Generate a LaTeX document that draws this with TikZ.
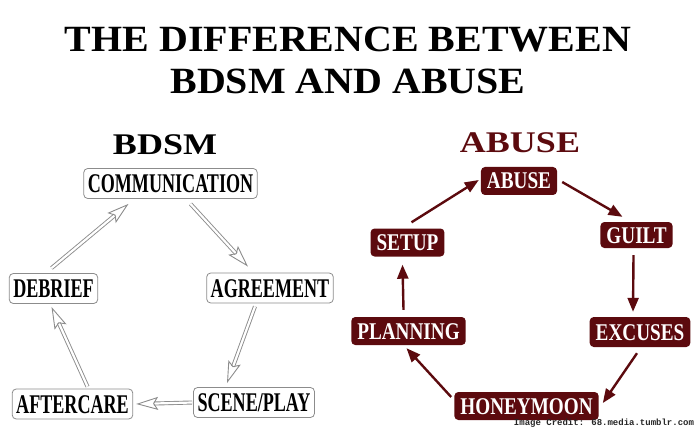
\documentclass[tikz,border=0pt]{standalone}
\usepackage{fontspec}
\usepackage{tikz}
\usetikzlibrary{calc}
\usetikzlibrary{arrows.meta}
\setmainfont{Liberation Serif}
\newfontfamily\titlefont[FakeStretch=1.08]{Liberation Serif}
\newfontfamily\headfont[FakeStretch=1.2]{Liberation Serif}
\newfontfamily\bdsmfont[FakeStretch=0.67]{Liberation Serif}
\newfontfamily\abusefont[FakeStretch=0.8]{Liberation Serif}
\newfontfamily\creditfont{Liberation Mono}
\definecolor{maroon}{RGB}{92,10,14}
\definecolor{boxgray}{RGB}{140,140,140}

\begin{document}
\begin{tikzpicture}[x=1pt, y=-1pt,
    bdsmbox/.style={draw=boxgray, fill=white, rounded corners=4pt, line width=0.8pt,
      font=\bdsmfont\bfseries\fontsize{27}{27}\selectfont, text height=18pt, text depth=0pt,
      inner xsep=4pt, minimum height=30pt},
    abusebox/.style={fill=maroon, text=white, rounded corners=4pt,
      font=\abusefont\bfseries\fontsize{24}{24}\selectfont, text height=16pt, text depth=0pt,
      inner xsep=6pt, minimum height=28pt},
    hollow/.style={draw=boxgray, double=white, double distance=2.2pt, line width=0.9pt,
      -{Stealth[open, inset=4pt, length=22pt, width=13pt]}},
    solid/.style={draw=maroon, line width=2.4pt, -{Triangle[length=14pt, width=11pt]}}]
      \useasboundingbox (0,0) rectangle (700,430);

      \draw (348,52) node[anchor=base, font=\titlefont\bfseries\fontsize{37}{37}\selectfont] (T1) {THE DIFFERENCE BETWEEN};
      \draw (348,94) node[anchor=base, font=\titlefont\bfseries\fontsize{37}{37}\selectfont] (T2) {BDSM AND ABUSE};

      \draw (165,155) node[anchor=base, font=\headfont\bfseries\fontsize{30}{30}\selectfont] (HB) {BDSM};
      \draw (520,153) node[anchor=base, text=maroon, font=\headfont\bfseries\fontsize{30}{30}\selectfont] (HA) {ABUSE};

      % BDSM cycle
      \draw (170.5,183.5) node[bdsmbox] (comm) {COMMUNICATION};
      \draw (270,288) node[bdsmbox] (agree) {AGREEMENT};
      \draw (254,402.5) node[bdsmbox] (scene) {SCENE/PLAY};
      \draw (72.5,404) node[bdsmbox] (after) {AFTERCARE};
      \draw (53.5,288.5) node[bdsmbox] (debrief) {DEBRIEF};

      \draw[hollow] ($(comm.south)+(20,5)$) -- ($(agree.north)+(-22,-6)$);
      \draw[hollow] ($(agree.south)+(-15,3)$) -- ($(scene.north)+(-27,-4)$);
      \draw[hollow] ($(scene.west)+(-1,0)$) -- ($(after.east)+(3,0)$);
      \draw[hollow] ($(after.north)+(15,-2)$) -- ($(debrief.south)+(-2,3)$);
      \draw[hollow] ($(debrief.north)+(-2,-5)$) -- ($(comm.south)+(-42,5)$);

      % abuse cycle
      \draw (519,181) node[abusebox] (abuse) {ABUSE};
      \draw (636.5,235) node[abusebox, minimum height=26pt] (guilt) {GUILT};
      \draw (640,332) node[abusebox, minimum height=30pt] (excuses) {EXCUSES};
      \draw (526.5,406) node[abusebox] (honey) {HONEYMOON};
      \draw (408.5,331) node[abusebox] (plan) {PLANNING};
      \draw (407.5,242.5) node[abusebox] (setup) {SETUP};

      \draw[solid] ($(setup.north)+(4,-6)$) -- ($(abuse.west)+(-2,-1)$);
      \draw[solid] ($(abuse.east)+(5,1)$) -- ($(guilt.north)+(-14,-5)$);
      \draw[solid] ($(guilt.south)+(-3,7)$) -- ($(excuses.north)+(-7,-5)$);
      \draw[solid] ($(excuses.south)+(-3,6)$) -- ($(honey.east)+(4,-3)$);
      \draw[solid] ($(honey.west)+(-3,-9)$) -- ($(plan.south)+(-2,3)$);
      \draw[solid] ($(plan.north)+(-5,-7)$) -- ($(setup.south)+(-5,8)$);

      \draw (604,423.5) node[text=black!85, font=\creditfont\bfseries\fontsize{9}{9}\selectfont] (credit) {Image Credit: 68.media.tumblr.com};
\end{tikzpicture}
\end{document}
